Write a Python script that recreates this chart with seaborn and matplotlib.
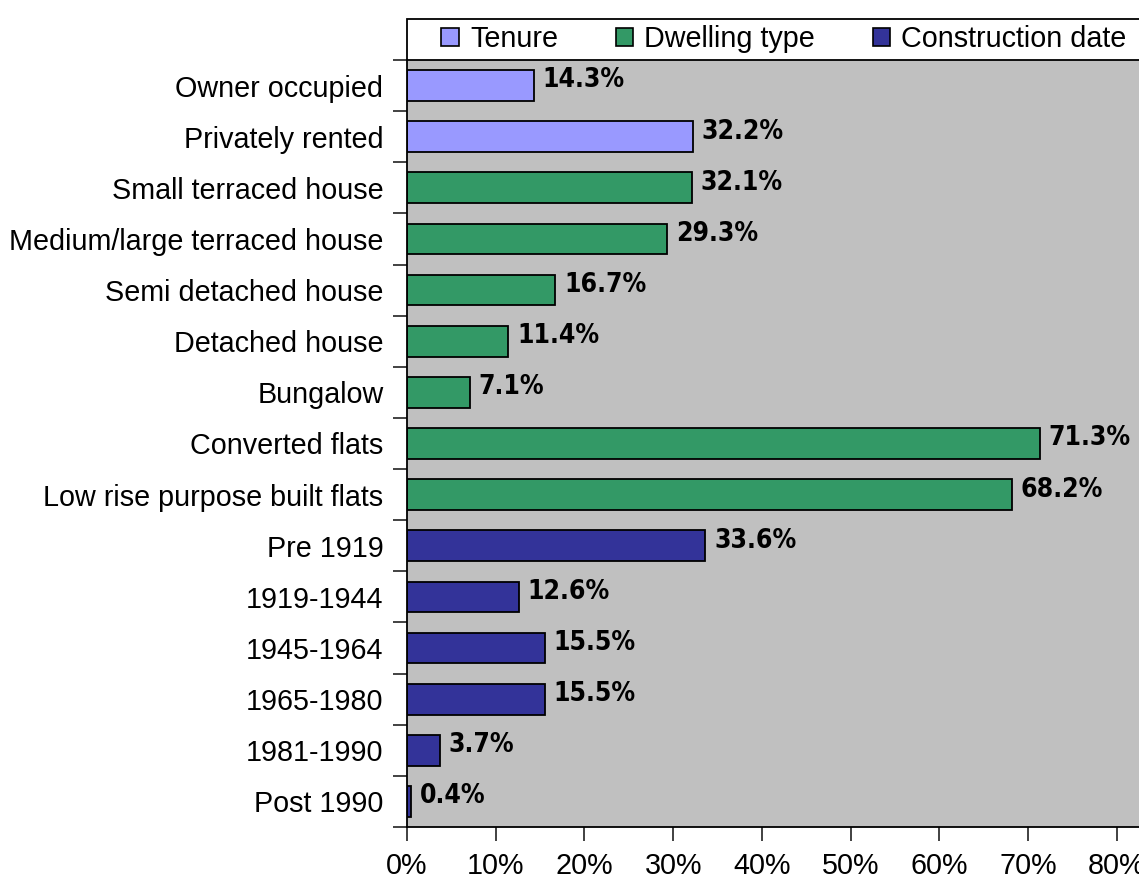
import numpy as np
import pandas as pd
import matplotlib
matplotlib.use("Agg")
import matplotlib.pyplot as plt
from matplotlib.patches import Patch, Rectangle
from matplotlib.ticker import MultipleLocator, FuncFormatter
import seaborn as sns

categories = ["Owner occupied", "Privately rented", "Small terraced house",
              "Medium/large terraced house", "Semi detached house", "Detached house",
              "Bungalow", "Converted flats", "Low rise purpose built flats",
              "Pre 1919", "1919-1944", "1945-1964", "1965-1980", "1981-1990", "Post 1990"]
values = [14.3, 32.2, 32.1, 29.3, 16.7, 11.4, 7.1, 71.3, 68.2,
          33.6, 12.6, 15.5, 15.5, 3.7, 0.4]
groups = ["Tenure"] * 2 + ["Dwelling type"] * 7 + ["Construction date"] * 6
group_order = ["Tenure", "Dwelling type", "Construction date"]
group_colors = {"Tenure": "#9999FF", "Dwelling type": "#339966",
                "Construction date": "#333399"}

sns.set_style("white")
plt.rcParams['font.family'] = ['Liberation Sans', 'DejaVu Sans']
plt.rcParams['text.color'] = 'black'
plt.rcParams['xtick.color'] = 'black'
plt.rcParams['ytick.color'] = 'black'

df = pd.DataFrame({"category": categories, "value": values, "group": groups})

W, H = 1139, 885
fig = plt.figure(figsize=(W / 100, H / 100), dpi=100)
ax = fig.add_axes([407 / W, 58 / H, 1 - 407 / W, (827 - 60) / H])
ax.set_facecolor("#C0C0C0")

sns.barplot(data=df, x="value", y="category", hue="group", hue_order=group_order,
            palette=group_colors, saturation=1, dodge=False, width=0.6,
            edgecolor="black", linewidth=1.3, orient="h", legend=False, ax=ax)

for i, v in enumerate(values):
    ax.text(v + 1.0, i - 0.1, f"{v:.1f}%", va="center", ha="left",
            fontsize=19, fontweight="bold", family="DejaVu Sans",
            fontstretch="condensed", color="black")

ax.set_xlim(0, 82.5)
ax.set_ylim(len(categories) - 0.5, -0.5)
ax.xaxis.set_major_locator(MultipleLocator(10))
ax.xaxis.set_major_formatter(FuncFormatter(lambda x, p: f"{x:.0f}%"))
ax.set_yticks(np.arange(len(categories)))
ax.set_yticklabels(categories)
ax.set_yticks(np.arange(len(categories) + 1) - 0.5, minor=True)
ax.tick_params(axis="y", which="major", length=0, pad=17, labelsize=20.7)
ax.tick_params(axis="y", which="minor", length=10, width=1.3, color="#333333",
               direction="out", left=True)
ax.tick_params(axis="x", length=10, width=1.3, color="#333333", direction="out",
               pad=8, labelsize=20.7, bottom=True)
ax.set_xlabel("")
ax.set_ylabel("")
for side in ["top", "right"]:
    ax.spines[side].set_visible(False)
for side in ["left", "bottom"]:
    ax.spines[side].set_color("black")
    ax.spines[side].set_linewidth(1.3)

# legend box above the plot area
fig.patches.append(Rectangle((407 / W, (H - 60) / H), 1.2, 41 / H,
                             transform=fig.transFigure, facecolor="white",
                             edgecolor="black", linewidth=1.3))
handles = [Patch(facecolor=group_colors[g], edgecolor="black", linewidth=1.2, label=g)
           for g in group_order]
fig.legend(handles=handles, loc="center", bbox_to_anchor=(784 / W, (H - 39) / H),
           ncol=3, frameon=False, fontsize=20.7, handlelength=0.6, handleheight=0.6,
           handletextpad=0.4, columnspacing=2.0, borderpad=0)

fig.savefig("out.png", dpi=100)
